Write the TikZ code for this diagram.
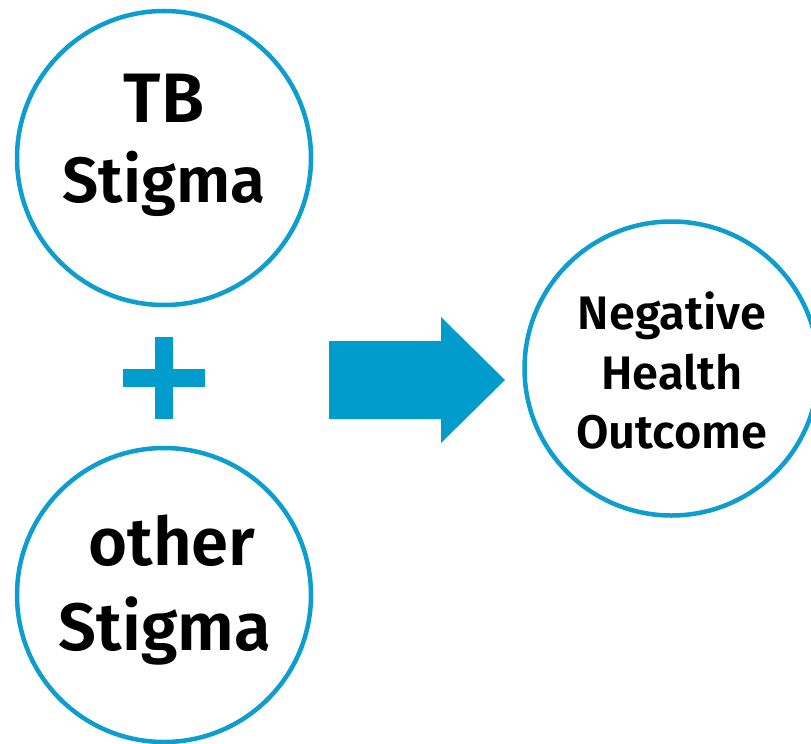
\documentclass[tikz,border=0pt]{standalone}
\usepackage{fontspec}
\setmainfont{Fira Sans}[BoldFont={Fira Sans SemiBold}]
\definecolor{ringblue}{HTML}{0E9DCF}
\definecolor{fillblue}{HTML}{009CCB}
\begin{document}
\begin{tikzpicture}[x=1pt,y=-1pt,
  ring/.style={circle,draw=ringblue,line width=4.5pt,minimum size=294pt,inner sep=0pt},
  bigtxt/.style={anchor=base,inner sep=0pt,font=\fontsize{70}{80}\selectfont\bfseries},
  lowtxt/.style={anchor=base,inner sep=0pt,font=\fontsize{67}{80}\selectfont\bfseries},
  midtxt/.style={anchor=base,inner sep=0pt,font=\fontsize{64}{80}\selectfont\bfseries},
  smalltxt/.style={anchor=base,inner sep=0pt,font=\fontsize{47}{60}\selectfont\bfseries},
  bluefill/.style={fill=fillblue,draw=none}]
\useasboundingbox (0,0) rectangle (811,744);
% circles
\node[ring] (tb) at (164,158) {};
\node[ring] (other) at (164,595) {};
\node[ring] (neg) at (671.5,368.5) {};
% texts
\node[bigtxt] (tbl1) at (164,122) {TB};
\node[midtxt] (tbl2) at (164,202) {Stigma};
\node[lowtxt] (otl1) at (172,565) {other};
\node[lowtxt] (otl2) at (165,650) {Stigma};
\node[smalltxt] (ngl1) at (672,329) {Negative};
\node[smalltxt] (ngl2) at (672,389) {Health};
\node[smalltxt] (ngl3) at (672,448) {Outcome};
% plus sign
\fill[bluefill] (123,369) rectangle (205,387);
\fill[bluefill] (155,337) rectangle (173,419);
% block arrow
\fill[bluefill] (329,341) -- (441,341) -- (441,317) -- (505,380) -- (441,443) -- (441,419) -- (329,419) -- cycle;
\end{tikzpicture}
\end{document}
